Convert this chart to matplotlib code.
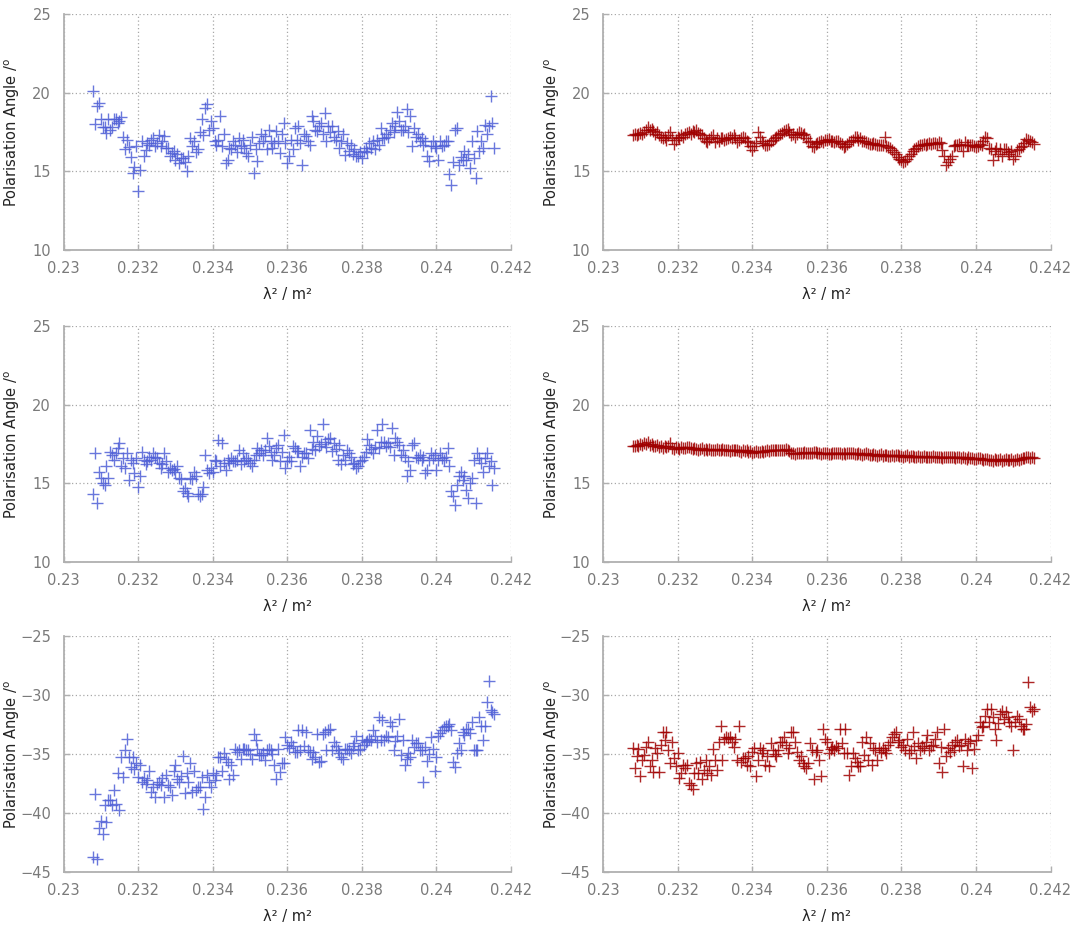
import matplotlib
matplotlib.use("Agg")
import matplotlib.pyplot as plt
import matplotlib.ticker as mticker

# lambda^2 of each channel (m^2)
lam2 = [
    0.23080, 0.23085, 0.23090, 0.23095, 0.23100, 0.23105, 0.23110, 0.23115, 0.23120, 0.23125,
    0.23130, 0.23135, 0.23140, 0.23145, 0.23150, 0.23155, 0.23160, 0.23165, 0.23170, 0.23175,
    0.23180, 0.23185, 0.23190, 0.23195, 0.23200, 0.23205, 0.23210, 0.23215, 0.23220, 0.23225,
    0.23230, 0.23235, 0.23240, 0.23245, 0.23250, 0.23255, 0.23260, 0.23265, 0.23270, 0.23275,
    0.23280, 0.23285, 0.23290, 0.23295, 0.23300, 0.23305, 0.23310, 0.23315, 0.23320, 0.23325,
    0.23330, 0.23335, 0.23340, 0.23345, 0.23350, 0.23355, 0.23360, 0.23365, 0.23370, 0.23375,
    0.23380, 0.23385, 0.23390, 0.23395, 0.23400, 0.23405, 0.23410, 0.23415, 0.23420, 0.23425,
    0.23430, 0.23435, 0.23440, 0.23445, 0.23450, 0.23455, 0.23460, 0.23465, 0.23470, 0.23475,
    0.23480, 0.23485, 0.23490, 0.23495, 0.23500, 0.23505, 0.23510, 0.23515, 0.23520, 0.23525,
    0.23530, 0.23535, 0.23540, 0.23545, 0.23550, 0.23555, 0.23560, 0.23565, 0.23570, 0.23575,
    0.23580, 0.23585, 0.23590, 0.23595, 0.23600, 0.23605, 0.23610, 0.23615, 0.23620, 0.23625,
    0.23630, 0.23635, 0.23640, 0.23645, 0.23650, 0.23655, 0.23660, 0.23665, 0.23670, 0.23675,
    0.23680, 0.23685, 0.23690, 0.23695, 0.23700, 0.23705, 0.23710, 0.23715, 0.23720, 0.23725,
    0.23730, 0.23735, 0.23740, 0.23745, 0.23750, 0.23755, 0.23760, 0.23765, 0.23770, 0.23775,
    0.23780, 0.23785, 0.23790, 0.23795, 0.23800, 0.23805, 0.23810, 0.23815, 0.23820, 0.23825,
    0.23830, 0.23835, 0.23840, 0.23845, 0.23850, 0.23855, 0.23860, 0.23865, 0.23870, 0.23875,
    0.23880, 0.23885, 0.23890, 0.23895, 0.23900, 0.23905, 0.23910, 0.23915, 0.23920, 0.23925,
    0.23930, 0.23935, 0.23940, 0.23945, 0.23950, 0.23955, 0.23960, 0.23965, 0.23970, 0.23975,
    0.23980, 0.23985, 0.23990, 0.23995, 0.24000, 0.24005, 0.24010, 0.24015, 0.24020, 0.24025,
    0.24030, 0.24035, 0.24040, 0.24045, 0.24050, 0.24055, 0.24060, 0.24065, 0.24070, 0.24075,
    0.24080, 0.24085, 0.24090, 0.24095, 0.24100, 0.24105, 0.24110, 0.24115, 0.24120, 0.24125,
    0.24130, 0.24135, 0.24140, 0.24145, 0.24150, 0.24155,
]

# polarisation angle (deg), top row
angle_a_left = [
    20.1, 18.0, 19.15, 19.35, 18.3, 17.8, 17.8, 17.45, 18.3, 17.6,
    17.8, 18.35, 18.35, 18.1, 18.2, 18.45, 17.2, 16.4, 17.0, 16.55,
    15.9, 14.9, 15.3, 16.6, 13.75, 15.1, 16.9, 15.95, 16.35, 16.8,
    16.65, 17.0, 17.1, 16.6, 16.8, 17.3, 16.6, 16.9, 17.25, 16.5,
    16.5, 15.95, 16.15, 16.3, 15.75, 16.1, 15.5, 15.85, 15.85, 15.6,
    15.0, 15.95, 17.1, 16.6, 16.9, 16.2, 16.4, 17.5, 18.35, 17.3,
    19.0, 19.25, 17.65, 18.2, 17.75, 16.9, 16.7, 17.0, 18.5, 16.6,
    17.4, 15.55, 15.75, 16.5, 16.4, 16.9, 16.7, 16.2, 17.1, 16.6,
    17.0, 16.5, 16.15, 15.95, 16.7, 17.2, 14.9, 16.4, 15.65, 16.8,
    17.35, 16.9, 17.25, 16.4, 17.65, 16.9, 16.5, 16.8, 17.55, 16.9,
    16.15, 17.4, 18.05, 16.8, 15.55, 15.95, 17.0, 16.4, 17.75, 17.0,
    17.85, 16.8, 15.4, 17.35, 17.25, 16.9, 16.7, 18.5, 18.2, 17.6,
    17.55, 17.9, 18.1, 17.4, 18.7, 16.9, 17.85, 17.5, 17.85, 17.2,
    17.0, 17.55, 16.5, 16.9, 17.35, 16.05, 16.8, 16.3, 16.7, 16.1,
    16.4, 16.0, 15.95, 16.2, 15.85, 16.3, 16.5, 16.2, 16.8, 16.5,
    16.9, 16.4, 17.0, 16.7, 17.75, 17.1, 17.1, 17.4, 17.2, 17.6,
    18.1, 17.5, 17.85, 18.8, 18.2, 17.6, 17.65, 17.9, 18.95, 17.5,
    18.5, 16.6, 17.75, 17.2, 17.35, 16.9, 17.1, 16.7, 16.9, 15.95,
    15.65, 16.6, 16.9, 16.6, 16.5, 15.75, 16.9, 16.6, 16.7, 16.9,
    16.9, 14.8, 14.15, 15.6, 17.65, 17.75, 15.4, 15.9, 15.75, 16.3,
    15.75, 16.1, 15.2, 16.9, 15.85, 14.6, 17.55, 16.3, 16.9, 16.5,
    17.95, 17.4, 17.85, 19.8, 18.1, 16.5,
]

angle_a_right = [
    17.3, 17.35, 17.3, 17.4, 17.45, 17.35, 17.5, 17.6, 17.8, 17.65,
    17.7, 17.55, 17.4, 17.5, 17.3, 17.2, 17.1, 17.2, 17.0, 17.3,
    17.5, 17.1, 16.75, 17.0, 17.2, 17.1, 17.3, 17.2, 17.35, 17.45,
    17.5, 17.4, 17.55, 17.5, 17.65, 17.45, 17.4, 17.3, 17.1, 16.95,
    16.85, 17.05, 17.2, 17.3, 16.85, 17.1, 16.95, 17.15, 17.1, 17.0,
    17.05, 17.15, 17.2, 17.1, 17.3, 17.1, 16.85, 17.0, 17.1, 17.2,
    17.15, 16.95, 16.85, 16.6, 16.35, 16.6, 16.8, 17.5, 17.2, 16.95,
    16.8, 16.65, 16.7, 16.75, 16.9, 17.0, 17.15, 17.2, 17.3, 17.4,
    17.45, 17.55, 17.65, 17.7, 17.5, 17.3, 17.35, 17.2, 17.4, 17.5,
    17.45, 17.3, 17.35, 17.1, 16.85, 16.9, 16.6, 16.55, 16.75, 16.8,
    16.85, 16.9, 16.85, 17.0, 17.0, 17.05, 16.95, 16.9, 16.85, 16.9,
    16.95, 16.8, 16.75, 16.55, 16.6, 16.75, 16.85, 16.9, 17.0, 17.2,
    17.2, 17.0, 17.1, 16.95, 16.95, 16.85, 16.8, 16.75, 16.75, 16.8,
    16.75, 16.7, 16.7, 16.65, 16.65, 17.2, 16.6, 16.55, 16.5, 16.35,
    16.25, 16.1, 15.9, 15.8, 15.75, 15.6, 15.65, 15.8, 16.0, 16.1,
    16.3, 16.45, 16.5, 16.6, 16.65, 16.7, 16.75, 16.7, 16.75, 16.8,
    16.75, 16.8, 16.8, 16.75, 16.85, 16.8, 16.35, 16.0, 15.4, 15.6,
    15.8, 16.0, 16.6, 16.65, 16.7, 16.75, 16.65, 16.3, 16.85, 16.7,
    16.65, 16.7, 16.7, 16.6, 16.55, 16.6, 16.75, 16.7, 16.95, 17.2,
    17.1, 16.5, 16.4, 15.7, 16.3, 16.5, 16.1, 16.45, 16.0, 16.4,
    16.45, 16.2, 16.1, 16.3, 15.8, 16.0, 16.35, 16.4, 16.55, 16.6,
    16.8, 17.05, 17.0, 16.9, 16.85, 16.75,
]

# polarisation angle (deg), middle row
angle_b_left = [
    14.3, 16.95, 13.75, 15.75, 15.35, 15.0, 14.9, 16.1, 15.35, 17.0,
    16.8, 16.5, 16.9, 17.25, 17.55, 16.1, 16.6, 16.0, 16.9, 15.2,
    16.5, 16.3, 15.65, 16.6, 14.75, 15.45, 17.0, 16.5, 16.2, 16.4,
    16.7, 16.5, 16.9, 16.7, 16.6, 16.3, 16.0, 16.2, 16.9, 16.4,
    15.75, 16.0, 15.85, 15.9, 15.75, 16.1, 15.35, 15.25, 14.5, 14.7,
    14.4, 14.2, 15.35, 15.25, 15.75, 15.5, 14.3, 14.2, 14.3, 14.8,
    16.8, 15.85, 15.65, 16.0, 15.75, 16.5, 16.4, 17.75, 16.1, 17.55,
    16.3, 15.85, 16.5, 16.3, 16.6, 16.4, 16.4, 16.5, 17.15, 16.2,
    16.9, 16.4, 16.6, 16.5, 16.3, 16.1, 16.5, 16.8, 17.25, 16.9,
    17.15, 16.8, 17.1, 17.9, 17.35, 17.0, 16.5, 16.8, 17.25, 17.45,
    16.4, 17.0, 18.1, 16.0, 16.4, 16.7, 16.4, 17.35, 17.25, 17.05,
    17.05, 16.1, 16.7, 16.9, 16.9, 16.6, 18.4, 17.2, 17.65, 17.15,
    18.0, 17.35, 17.5, 18.75, 17.65, 17.3, 17.8, 17.9, 17.05, 17.55,
    17.2, 16.5, 17.45, 16.2, 16.8, 16.5, 17.15, 16.9, 16.7, 16.2,
    16.3, 16.0, 16.1, 16.4, 16.5, 16.7, 17.0, 17.8, 17.45, 17.2,
    16.9, 17.3, 18.4, 17.25, 17.6, 18.75, 17.65, 17.4, 17.55, 17.3,
    18.5, 16.8, 17.9, 17.6, 17.45, 16.8, 17.1, 16.7, 15.45, 16.4,
    15.85, 17.45, 17.55, 16.7, 16.6, 16.8, 16.5, 16.7, 15.65, 15.85,
    16.5, 16.9, 16.6, 16.8, 15.85, 16.5, 16.9, 16.6, 16.5, 16.7,
    17.25, 16.1, 14.5, 14.2, 13.65, 14.9, 15.45, 15.75, 15.2, 15.5,
    14.6, 14.05, 15.0, 15.35, 16.5, 13.75, 16.9, 16.6, 16.3, 15.75,
    16.6, 16.9, 16.1, 16.4, 14.9, 16.0,
]

angle_b_right = [
    17.35, 17.4, 17.45, 17.4, 17.5, 17.45, 17.55, 17.5, 17.6, 17.45,
    17.5, 17.4, 17.35, 17.45, 17.3, 17.35, 17.25, 17.35, 17.3, 17.4,
    17.55, 17.25, 17.2, 17.3, 17.25, 17.2, 17.3, 17.25, 17.25, 17.3,
    17.3, 17.25, 17.2, 17.25, 17.2, 17.15, 17.2, 17.25, 17.15, 17.2,
    17.15, 17.2, 17.15, 17.1, 17.15, 17.2, 17.1, 17.15, 17.2, 17.1,
    17.15, 17.1, 17.05, 17.1, 17.15, 17.1, 17.1, 17.05, 17.0, 17.1,
    17.05, 17.1, 17.0, 17.05, 16.95, 17.0, 17.05, 17.0, 17.0, 17.05,
    17.0, 17.05, 17.1, 17.05, 17.1, 17.1, 17.15, 17.1, 17.1, 17.15,
    17.15, 17.1, 17.2, 17.1, 17.05, 16.95, 16.9, 16.85, 16.9, 16.95,
    16.9, 16.95, 17.0, 16.95, 16.9, 16.95, 16.95, 17.0, 17.0, 16.95,
    16.9, 16.85, 16.9, 16.95, 16.9, 16.85, 16.85, 16.9, 16.95, 16.9,
    16.9, 16.95, 16.85, 16.9, 16.85, 16.9, 16.95, 16.9, 16.9, 16.85,
    16.85, 16.9, 16.85, 16.8, 16.85, 16.9, 16.85, 16.8, 16.8, 16.85,
    16.8, 16.75, 16.8, 16.85, 16.75, 16.8, 16.8, 16.75, 16.75, 16.8,
    16.75, 16.8, 16.8, 16.75, 16.75, 16.7, 16.75, 16.8, 16.7, 16.75,
    16.75, 16.7, 16.7, 16.75, 16.7, 16.65, 16.75, 16.7, 16.7, 16.65,
    16.7, 16.75, 16.65, 16.7, 16.7, 16.65, 16.6, 16.65, 16.65, 16.7,
    16.7, 16.65, 16.65, 16.6, 16.7, 16.65, 16.6, 16.65, 16.6, 16.55,
    16.65, 16.6, 16.6, 16.55, 16.55, 16.6, 16.6, 16.55, 16.5, 16.55,
    16.55, 16.5, 16.5, 16.45, 16.55, 16.5, 16.5, 16.55, 16.45, 16.5,
    16.55, 16.5, 16.5, 16.55, 16.45, 16.5, 16.55, 16.5, 16.55, 16.6,
    16.6, 16.65, 16.7, 16.6, 16.65, 16.6,
]

# polarisation angle (deg), bottom row
angle_c_left = [
    -43.75, -38.4, -43.9, -41.3, -40.7, -41.8, -39.3, -40.8, -38.9, -38.9,
    -39.3, -38.05, -39.2, -36.65, -39.75, -35.25, -36.95, -34.7, -33.7, -35.25,
    -36.1, -35.25, -36.25, -35.8, -36.95, -35.95, -37.35, -37.0, -37.5, -37.2,
    -36.4, -38.2, -37.8, -38.6, -37.5, -37.35, -37.65, -37.0, -38.6, -36.8,
    -37.65, -37.8, -38.5, -36.4, -35.95, -37.1, -37.35, -36.9, -35.2, -38.3,
    -36.65, -37.35, -35.8, -38.2, -36.4, -38.05, -37.8, -37.8, -36.95, -39.7,
    -38.6, -36.8, -37.35, -37.8, -36.65, -37.2, -36.8, -35.25, -35.25, -36.4,
    -34.95, -35.4, -35.7, -37.1, -35.95, -36.8, -34.55, -34.85, -34.7, -35.4,
    -34.55, -34.55, -34.7, -34.7, -35.0, -35.4, -33.3, -33.8, -34.55, -35.1,
    -35.1, -34.95, -35.5, -34.7, -34.55, -34.7, -35.0, -35.95, -37.1, -34.55,
    -36.5, -35.8, -35.8, -33.55, -34.25, -34.5, -34.0, -34.3, -34.85, -34.8,
    -33.0, -34.7, -33.0, -34.3, -33.15, -34.7, -34.8, -35.4, -34.8, -35.25,
    -33.3, -35.7, -35.55, -33.3, -33.15, -34.7, -33.0, -32.85, -34.7, -34.0,
    -34.3, -34.7, -34.95, -35.25, -35.4, -34.55, -34.55, -34.7, -34.95, -34.3,
    -34.1, -33.45, -34.7, -34.55, -33.85, -34.2, -34.0, -33.9, -33.7, -33.85,
    -33.0, -33.5, -34.0, -31.9, -33.85, -32.15, -33.85, -33.45, -33.55, -32.3,
    -32.6, -34.7, -33.9, -33.45, -32.0, -35.1, -33.85, -35.95, -35.4, -34.9,
    -35.25, -33.85, -34.4, -34.1, -34.1, -34.7, -34.7, -37.35, -34.4, -35.55,
    -35.0, -33.55, -34.55, -36.4, -35.25, -33.45, -33.2, -33.0, -32.7, -32.6,
    -32.6, -32.45, -33.0, -35.7, -36.1, -34.95, -34.1, -34.7, -33.15, -33.4,
    -32.85, -32.85, -33.2, -32.3, -34.7, -34.7, -34.7, -31.9, -32.6, -33.85,
    -32.6, -30.6, -28.8, -31.3, -31.45, -31.6,
]

angle_c_right = [
    -34.5, -36.2, -35.2, -34.6, -36.9, -35.5, -35.1, -34.4, -34.0, -36.05,
    -35.5, -36.5, -34.5, -34.95, -36.5, -34.25, -33.15, -33.8, -33.15, -34.65,
    -35.8, -34.0, -35.35, -36.05, -34.95, -37.0, -36.6, -35.9, -36.2, -35.9,
    -37.45, -37.6, -38.0, -36.6, -35.8, -36.6, -35.65, -37.15, -36.35, -35.5,
    -36.6, -36.05, -36.75, -34.55, -35.5, -36.35, -34.0, -32.6, -35.5, -33.7,
    -33.55, -33.6, -33.55, -34.0, -34.4, -33.7, -35.5, -32.65, -35.65, -35.35,
    -35.35, -35.9, -35.2, -36.05, -34.8, -34.5, -36.9, -35.5, -34.5, -34.9,
    -34.65, -35.9, -35.2, -36.05, -34.1, -34.65, -35.0, -35.2, -34.65, -34.0,
    -34.0, -33.55, -34.2, -34.95, -34.5, -33.15, -33.15, -34.0, -34.8, -35.5,
    -35.2, -35.8, -36.05, -36.2, -35.8, -34.1, -34.65, -37.15, -34.8, -34.65,
    -35.5, -36.9, -32.85, -33.7, -34.0, -34.95, -34.6, -34.4, -34.65, -34.3,
    -34.5, -32.85, -34.1, -34.95, -32.85, -34.95, -36.75, -36.05, -34.95, -35.3,
    -35.65, -36.05, -36.05, -34.0, -35.1, -33.55, -35.5, -34.1, -35.9, -34.5,
    -34.65, -35.5, -34.5, -34.8, -34.5, -34.7, -34.95, -34.25, -34.0, -33.55,
    -33.3, -33.15, -34.0, -33.85, -34.4, -34.2, -34.65, -33.7, -34.95, -34.65,
    -33.15, -34.3, -35.35, -34.1, -34.65, -34.3, -34.5, -34.0, -33.4, -34.65,
    -34.3, -34.25, -33.7, -33.15, -35.8, -34.4, -36.5, -32.85, -35.2, -34.5,
    -34.8, -34.25, -34.65, -34.0, -33.85, -34.3, -34.25, -36.05, -33.7, -34.65,
    -34.1, -33.9, -36.2, -34.6, -33.85, -33.4, -32.3, -32.7, -32.6, -31.75,
    -31.2, -32.3, -31.2, -31.9, -32.85, -33.85, -32.4, -31.6, -31.35, -32.0,
    -31.45, -31.9, -32.3, -32.6, -34.65, -32.3, -31.75, -32.0, -32.6, -32.9,
    -32.85, -32.45, -28.9, -31.05, -31.35, -31.15,
]

BLUE = "#4f5fd6"
RED = "#a00000"
GRID = "#a8a8a8"
TICK = "#7a7a7a"

panels = [
    (angle_a_left, BLUE, (10, 25), [0.0589, 0.7303]),
    (angle_a_right, RED, (10, 25), [0.5589, 0.7303]),
    (angle_b_left, BLUE, (10, 25), [0.0589, 0.3937]),
    (angle_b_right, RED, (10, 25), [0.5589, 0.3937]),
    (angle_c_left, BLUE, (-45, -25), [0.0589, 0.0593]),
    (angle_c_right, RED, (-45, -25), [0.5589, 0.0593]),
]

fig = plt.figure(figsize=(10.79, 9.27), dpi=100)

for yvals, col, ylim, pos in panels:
    ax = fig.add_axes([pos[0], pos[1], 0.4147, 0.2546])
    ax.plot(lam2, yvals, linestyle="none", marker="+", markersize=8,
            markeredgewidth=1.0, color=col, alpha=0.85)
    ax.set_xlim(0.23, 0.242)
    ax.set_ylim(*ylim)
    ax.xaxis.set_major_locator(mticker.MultipleLocator(0.002))
    ax.yaxis.set_major_locator(mticker.MultipleLocator(5))
    ax.xaxis.set_major_formatter(mticker.FuncFormatter(lambda v, _: f"{v:g}"))
    ax.grid(True, color=GRID, linestyle=(0, (1, 2)), linewidth=0.9)
    ax.set_axisbelow(True)
    for side in ("top", "right"):
        ax.spines[side].set_visible(False)
    for side in ("left", "bottom"):
        ax.spines[side].set_color("#b0b0b0")
        ax.spines[side].set_linewidth(1.3)
    ax.tick_params(direction="in", length=4, width=1, color="#b0b0b0",
                   labelcolor=TICK, labelsize=10.5)
    ax.tick_params(axis="y", pad=9)
    ax.tick_params(axis="x", pad=8)
    ax.set_xlabel("λ² / m²", fontsize=10.5, color="#222222", labelpad=8)
    ax.set_ylabel("Polarisation Angle /$^{\\mathrm{o}}$", fontsize=10.5,
                  color="#222222")
    # same label column for every panel, whatever the tick label width
    ax.yaxis.set_label_coords(-0.092, 0.5)

fig.savefig("out.png", dpi=100)
